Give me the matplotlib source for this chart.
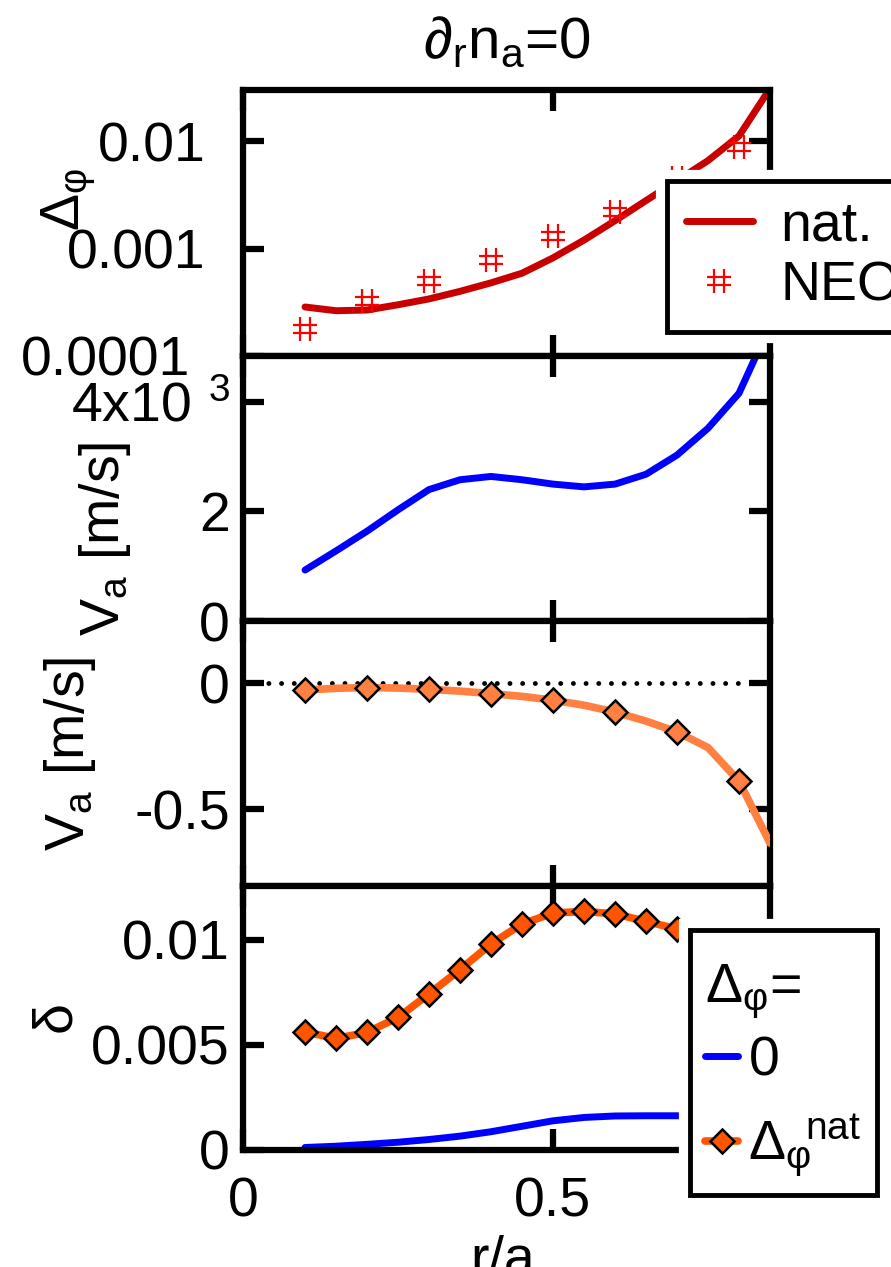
import matplotlib
matplotlib.use('Agg')
import matplotlib.pyplot as plt
import matplotlib.patheffects as pe
import matplotlib.transforms as mtransforms
from matplotlib.path import Path

plt.rcParams['font.family'] = ['Liberation Sans', 'DejaVu Sans']
plt.rcParams['mathtext.fontset'] = 'custom'
plt.rcParams['mathtext.rm'] = 'Liberation Sans'
plt.rcParams['mathtext.it'] = 'Liberation Sans'
plt.rcParams['mathtext.sf'] = 'Liberation Sans'
plt.rcParams['mathtext.bf'] = 'Liberation Sans:bold'
plt.rcParams['mathtext.fallback'] = 'stixsans'
plt.rcParams['axes.unicode_minus'] = False

# ---------------- data ----------------
r_grid = [0.10, 0.15, 0.20, 0.25, 0.30, 0.35, 0.40, 0.45,
          0.50, 0.55, 0.60, 0.65, 0.70, 0.75, 0.80, 0.85]

# panel 1: natural Delta_phi and NEO
delta_phi_nat = [2.86e-4, 2.64e-4, 2.68e-4, 3.0e-4, 3.4e-4, 4.0e-4, 4.8e-4, 5.9e-4,
                 8.2e-4, 1.2e-3, 1.82e-3, 2.8e-3, 4.3e-3, 6.6e-3, 1.12e-2, 3.1e-2]
r_neo = [0.1, 0.2, 0.3, 0.4, 0.5, 0.6, 0.7, 0.8]
delta_phi_neo = [1.8e-4, 3.26e-4, 4.97e-4, 7.8e-4, 1.32e-3, 2.17e-3, 4.5e-3, 8.8e-3]

# panel 2: V_a for Delta_phi = 0  [m/s]
va_dphi0 = [930, 1280, 1640, 2030, 2400, 2580, 2640, 2580,
            2500, 2450, 2500, 2680, 3030, 3520, 4160, 5400]

# panel 3: V_a for Delta_phi = nat  [m/s]
va_dphinat = [-0.027, -0.020, -0.017, -0.019, -0.024, -0.031, -0.041, -0.052,
              -0.067, -0.087, -0.114, -0.150, -0.193, -0.255, -0.388, -0.634]

# panel 4: delta
delta_dphi0 = [0.00012, 0.00018, 0.00027, 0.00037, 0.00050, 0.00066, 0.00087, 0.00113,
               0.00139, 0.00155, 0.00162, 0.00163, 0.00163, 0.00163, 0.00163, 0.00163]
delta_dphinat = [0.00563, 0.00531, 0.00560, 0.00631, 0.00743, 0.00859, 0.00981, 0.01076,
                 0.01128, 0.01136, 0.01124, 0.01089, 0.01052, 0.01010, 0.00970, 0.00930]

x_ticks = [0, 0.5]
x_ticklabels = ['0', '0.5']
p1_ticks = [1e-4, 1e-3, 1e-2]
p1_labels = ['0.0001', '0.001', '0.01']
p2_ticks = [0, 2000, 4000]
p2_labels = ['0', '2', r'${\mathrm{4x10}}^{\,\,\,3}$']
p3_ticks = [-0.5, 0]
p3_labels = ['-0.5', '0']
p4_ticks = [0, 0.005, 0.01]
p4_labels = ['0', '0.005', '0.01']

# ---------------- style ----------------
FS = 40
LFS = 40
SPW = 4.5
red_dark = '#c80000'
red = '#ff0000'
blue = '#0000ff'
orange_light = '#ff8040'
orange = '#ff5500'

# '#'-shaped marker (thin strokes)
hash_marker = Path([(-0.22, -0.5), (-0.22, 0.5), (0.22, -0.5), (0.22, 0.5),
                    (-0.5, -0.18), (0.5, -0.18), (-0.5, 0.18), (0.5, 0.18)],
                   [Path.MOVETO, Path.LINETO] * 4)

W, H = 891, 1267
fig = plt.figure(figsize=(W / 100, H / 100), dpi=100)

left = 243 / W
width = (770 - 243) / W
edges = [90, 356, 621, 886, 1150]
axes = []
for i in range(4):
    top, bot = edges[i], edges[i + 1]
    ax = fig.add_axes([left, 1 - bot / H, width, (bot - top) / H])
    axes.append(ax)

for i, ax in enumerate(axes):
    for s in ax.spines.values():
        s.set_linewidth(SPW)
    ax.set_xlim(0, 0.85)
    ax.set_xticks(x_ticks)
    ax.tick_params(axis='both', which='major', direction='in', length=15, width=SPW,
                   top=True, right=True, labelsize=FS, pad=9.5)
    ax.tick_params(axis='x', pad=19)
    ax.tick_params(which='minor', left=False, right=False, top=False, bottom=False)
    if i < 3:
        ax.set_xticklabels([])
    else:
        ax.set_xticklabels(x_ticklabels)

ax1, ax2, ax3, ax4 = axes

# panel 1
ax1.set_yscale('log')
ax1.set_ylim(1e-4, 3.0e-2)
ln_nat, = ax1.plot(r_grid, delta_phi_nat, color=red_dark, lw=5, solid_capstyle='round',
                   label='nat.')
ln_neo, = ax1.plot(r_neo, delta_phi_neo, ls='none', marker=hash_marker, ms=17, color=red,
                   mec=red, mew=1.6, label='NEO')
ax1.set_yticks(p1_ticks)
ax1.set_yticklabels(p1_labels)
ax1.minorticks_off()
ax1.tick_params(axis='y', pad=27)
# the lowest label sits a little further left in the original
lab0 = ax1.yaxis.get_major_ticks()[0].label1
lab0.set_transform(lab0.get_transform() +
                   mtransforms.ScaledTranslation(-0.15, 0, fig.dpi_scale_trans))
ax1.set_title(r'$\partial_{\mathrm{r}}\mathrm{n}_{\mathrm{a}}$=0', fontsize=42, pad=23)
ax1.set_ylabel(r'$\Delta_{φ}$', fontsize=LFS)
ax1.yaxis.set_label_coords(-0.275, 0.59)

# panel 2
ax2.set_ylim(0, 4840)
ax2.plot(r_grid, va_dphi0, color=blue, lw=5, solid_capstyle='round')
ax2.set_yticks(p2_ticks)
ax2.set_yticklabels(p2_labels)
ax2.set_ylabel(r'$\mathrm{V}_{\mathrm{a}}$ [m/s]', fontsize=LFS)
ax2.yaxis.set_label_coords(-0.209, 0.311)

# panel 3
ax3.set_ylim(-0.804, 0.247)
ax3.axhline(0, xmin=0, xmax=r_neo[-1] / 0.85, color='black', lw=3.5,
            ls=(0, (0.01, 2.6)), dash_capstyle='round', zorder=1)
ax3.plot(r_grid, va_dphinat, color=orange_light, lw=5.5, solid_capstyle='round',
         marker='D', markevery=2, ms=12.5, mfc=orange_light, mec='black', mew=1.8, zorder=3)
ax3.set_yticks(p3_ticks)
ax3.set_yticklabels(p3_labels)
ax3.set_ylabel(r'$\mathrm{V}_{\mathrm{a}}$ [m/s]', fontsize=LFS)
ax3.yaxis.set_label_coords(-0.275, 0.50)

# panel 4
ax4.set_ylim(0, 0.01257)
l0, = ax4.plot(r_grid, delta_dphi0, color=blue, lw=5, solid_capstyle='round', label='0')
lnat, = ax4.plot(r_grid, delta_dphinat, color=orange, lw=5.5, solid_capstyle='round',
                 marker='D', ms=12.5, mfc=orange, mec='black', mew=1.8,
                 label=r'${\Delta_{φ}\!}^{\mathrm{nat}}$')
ax4.set_yticks(p4_ticks)
ax4.set_yticklabels(p4_labels)
ax4.set_ylabel('δ', fontsize=LFS)
ax4.yaxis.set_label_coords(-0.305, 0.504)
ax4.set_xlabel('r/a', fontsize=FS)
ax4.xaxis.set_label_coords(0.493, -0.322)

halo = [pe.withStroke(linewidth=16, foreground='white')]

leg1 = ax1.legend(handles=[ln_nat, ln_neo], loc='upper left',
                  bbox_to_anchor=(666.5 / W, 1 - 181 / H), bbox_transform=fig.transFigure,
                  borderaxespad=0, fontsize=FS, frameon=True, fancybox=False,
                  edgecolor='black', framealpha=1, handlelength=1.2, handletextpad=0.5,
                  labelspacing=0.14, borderpad=0.35, numpoints=1)
leg1.get_frame().set_linewidth(3.5)
leg1.get_frame().set_path_effects(halo)

leg2 = ax4.legend(handles=[l0, lnat], loc='upper left',
                  bbox_to_anchor=(689.5 / W, 1 - 929.5 / H), bbox_transform=fig.transFigure,
                  borderaxespad=0, fontsize=FS, frameon=True, fancybox=False,
                  edgecolor='black', framealpha=1, handlelength=0.6, handletextpad=0.18,
                  labelspacing=0.45, borderpad=0.28, numpoints=1,
                  title=' \n' + r'$\Delta_{φ}$=', title_fontsize=FS, alignment='left')
leg2.get_title().set_linespacing(0.125)
if hasattr(leg2, '_legend_box'):
    leg2._legend_box.sep = 0.27 * FS
leg2.get_frame().set_linewidth(3.5)
leg2.get_frame().set_path_effects(halo)

fig.savefig('out.png', dpi=100)
